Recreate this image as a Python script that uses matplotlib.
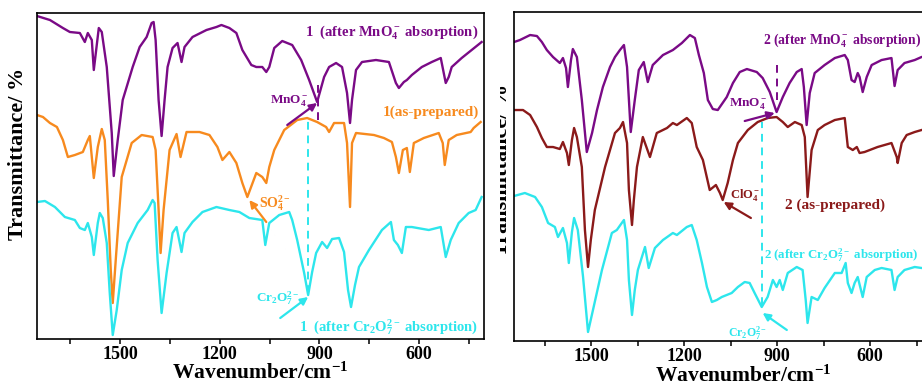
import matplotlib
matplotlib.use("Agg")
import matplotlib.pyplot as plt
from matplotlib.patches import Rectangle
from matplotlib.ticker import MultipleLocator

plt.rcParams['font.family'] = ['Liberation Serif', 'DejaVu Serif']
plt.rcParams['font.weight'] = 'bold'
plt.rcParams['mathtext.fontset'] = 'custom'
plt.rcParams['mathtext.rm'] = 'Liberation Serif:bold'
plt.rcParams['mathtext.bf'] = 'Liberation Serif:bold'
plt.rcParams['mathtext.it'] = 'Liberation Serif:bold:italic'
plt.rcParams['mathtext.default'] = 'rm'

PURPLE = '#7A0A86'
ORANGE = '#F78A1E'
CYAN = '#2DE6EC'
DARKRED = '#8B1A1A'

# ---- compound 1 (left panel), wavenumber in cm-1, transmittance in a.u. ----
wn_1mn = [1750, 1711, 1672, 1651, 1621, 1606, 1597, 1585, 1579, 1564, 1555, 1540, 1525, 1519,
          1507, 1492, 1462, 1441, 1420, 1405, 1399, 1393, 1384, 1375, 1366, 1357, 1342, 1327,
          1315, 1306, 1282, 1240, 1210, 1195, 1171, 1150, 1132, 1105, 1090, 1072, 1060, 1051,
          1036, 1012, 982, 955, 931, 907, 886, 871, 850, 832, 817, 808, 802, 790, 772, 730,
          691, 670, 661, 646, 637, 622, 592, 562, 535, 520, 511, 502, 472, 442, 412]
t_1mn = [324, 320, 312, 308, 307, 298, 307, 300, 270, 312, 308, 273, 207, 164,
         200, 240, 273, 293, 303, 317, 318, 300, 240, 204, 240, 273, 292, 297,
         278, 293, 303, 310, 313, 315, 312, 307, 290, 275, 273, 273, 268, 273,
         292, 299, 295, 280, 260, 238, 263, 273, 277, 273, 247, 217, 240, 270, 278, 280,
         278, 257, 252, 258, 260, 265, 273, 278, 282, 257, 263, 273, 282, 290, 298]

wn_1as = [1750, 1732, 1711, 1690, 1672, 1657, 1636, 1612, 1597, 1591, 1579, 1567, 1555, 1546,
          1537, 1528, 1522, 1513, 1495, 1465, 1435, 1402, 1393, 1384, 1378, 1369, 1351, 1330,
          1318, 1300, 1261, 1231, 1207, 1192, 1171, 1150, 1132, 1117, 1090, 1072, 1060, 1051,
          1036, 1006, 967, 937, 907, 880, 871, 856, 826, 817, 808, 802, 790, 736, 706, 682,
          670, 661, 649, 637, 628, 616, 586, 541, 529, 523, 511, 487, 445, 436, 415]
t_1as = [225, 223, 217, 213, 200, 183, 185, 188, 200, 204, 162, 193, 211, 200,
         140, 70, 37, 80, 163, 197, 205, 203, 190, 130, 87, 130, 190, 206,
         183, 208, 208, 205, 193, 180, 188, 177, 157, 143, 167, 163, 157, 173,
         190, 210, 220, 222, 218, 213, 208, 217, 217, 197, 133, 197, 207, 205, 202, 198,
         183, 167, 190, 192, 168, 197, 202, 207, 197, 175, 200, 205, 208, 212, 218]

wn_1cr = [1750, 1726, 1696, 1666, 1636, 1621, 1606, 1597, 1585, 1579, 1567, 1561, 1552, 1540,
          1531, 1522, 1510, 1495, 1477, 1447, 1417, 1402, 1396, 1387, 1375, 1360, 1342, 1330,
          1315, 1306, 1282, 1252, 1210, 1171, 1141, 1111, 1072, 1063, 1051, 1021, 991, 982,
          967, 946, 934, 922, 910, 892, 877, 862, 841, 826, 814, 805, 793, 781, 751, 712,
          685, 676, 664, 652, 640, 622, 571, 535, 520, 505, 481, 451, 430, 412]
t_1cr = [138, 139, 133, 123, 120, 112, 110, 117, 103, 85, 117, 127, 122, 97,
         47, 5, 30, 70, 97, 117, 130, 140, 137, 80, 27, 67, 107, 113,
         88, 107, 118, 128, 133, 130, 128, 122, 120, 95, 117, 125, 128, 120,
         100, 67, 45, 68, 87, 98, 92, 101, 102, 88, 50, 33, 55, 73, 90, 110,
         118, 100, 95, 87, 113, 113, 110, 113, 83, 100, 117, 127, 130, 143]

# ---- compound 2 (right panel) ----
wn_2mn = [1750, 1731, 1698, 1676, 1660, 1644, 1624, 1602, 1592, 1582, 1576, 1566, 1560, 1547,
          1531, 1515, 1498, 1482, 1463, 1440, 1424, 1408, 1395, 1385, 1373, 1360, 1347, 1331,
          1318, 1302, 1269, 1237, 1208, 1182, 1166, 1153, 1137, 1124, 1108, 1092, 1063, 1043,
          1021, 998, 966, 947, 924, 902, 882, 860, 837, 821, 814, 805, 795, 779, 747, 714,
          682, 672, 660, 650, 640, 634, 624, 611, 595, 563, 531, 521, 511, 489, 456, 434, 401]
t_2mn = [302, 304, 309, 308, 302, 294, 287, 281, 286, 276, 257, 284, 295, 287,
         244, 192, 211, 234, 257, 277, 287, 294, 299, 277, 212, 244, 274, 282,
         262, 279, 289, 294, 301, 309, 306, 289, 271, 244, 235, 234, 247, 261,
         272, 275, 272, 266, 252, 232, 247, 261, 272, 275, 257, 219, 251, 271, 279, 286,
         289, 284, 264, 262, 271, 267, 252, 267, 279, 284, 286, 258, 274, 281, 284, 287, 289]

wn_2as = [1750, 1721, 1698, 1676, 1660, 1644, 1624, 1602, 1592, 1579, 1573, 1563, 1556, 1547,
          1531, 1521, 1511, 1502, 1489, 1456, 1424, 1408, 1398, 1385, 1379, 1369, 1363, 1353,
          1334, 1311, 1289, 1256, 1237, 1224, 1192, 1176, 1160, 1140, 1118, 1098, 1085, 1076,
          1060, 1043, 1027, 995, 963, 931, 902, 882, 866, 843, 821, 811, 802, 789, 769, 747,
          714, 682, 672, 656, 643, 634, 618, 576, 531, 514, 511, 498, 482, 456, 434, 401]
t_2as = [234, 234, 229, 217, 206, 197, 197, 195, 202, 191, 179, 204, 216, 207,
         177, 114, 77, 104, 134, 177, 211, 216, 222, 201, 154, 119, 144, 177,
         207, 187, 211, 216, 221, 219, 226, 221, 197, 184, 154, 159, 151, 144,
         161, 184, 201, 214, 222, 226, 227, 222, 217, 222, 219, 207, 147, 194, 214, 219,
         224, 226, 197, 194, 197, 191, 192, 197, 201, 187, 181, 201, 209, 212, 214, 216]

wn_2cr = [1750, 1715, 1682, 1660, 1640, 1618, 1608, 1592, 1579, 1573, 1563, 1556, 1544, 1527,
          1511, 1495, 1466, 1434, 1418, 1402, 1395, 1385, 1379, 1369, 1360, 1350, 1327, 1315,
          1295, 1269, 1237, 1224, 1192, 1176, 1160, 1143, 1127, 1111, 1095, 1079, 1047, 1027,
          1005, 989, 973, 950, 931, 914, 902, 892, 882, 866, 837, 818, 808, 802, 789, 769,
          747, 714, 692, 679, 672, 660, 650, 640, 624, 611, 585, 563, 531, 521, 511, 489,
          456, 434, 401]
t_2cr = [148, 151, 147, 137, 121, 117, 107, 116, 101, 81, 112, 126, 114, 67,
         12, 34, 74, 111, 114, 121, 124, 104, 64, 29, 54, 74, 97, 76,
         96, 104, 111, 109, 117, 119, 104, 81, 57, 42, 44, 47, 51, 57,
         62, 61, 51, 37, 47, 64, 57, 64, 54, 71, 77, 74, 44, 21, 47, 44,
         56, 71, 71, 81, 61, 51, 61, 67, 47, 67, 74, 76, 74, 54, 67, 74,
         77, 76, 76]

fig = plt.figure(figsize=(9.22, 3.87), dpi=100)
ax1 = fig.add_axes([0.0401, 0.124, 0.4848, 0.8424])
ax2 = fig.add_axes([0.5575, 0.1189, 0.4534, 0.850])

for ax in (ax1, ax2):
    ax.set_xlim(1750, 405)
    ax.xaxis.set_major_locator(MultipleLocator(300))
    ax.xaxis.set_minor_locator(MultipleLocator(150))
    ax.tick_params(axis='x', which='both', direction='out', length=3.5, width=1.1,
                   labelsize=13, pad=1.5)
    ax.set_yticks([])
    for s in ax.spines.values():
        s.set_linewidth(1.2)
    ax.set_xlabel('Wavenumber/cm$^{-1}$', fontsize=15.5, fontweight='bold', labelpad=0)

ax1.set_ylim(1, 327)
ax2.set_ylim(3, 332)
ax2.set_xlim(1750, 400)
ax2.xaxis.set_label_coords(0.548, -0.074)

lw = 1.7
ax1.plot(wn_1mn, t_1mn, color=PURPLE, lw=lw)
ax1.plot(wn_1as, t_1as, color=ORANGE, lw=lw)
ax1.plot(wn_1cr, t_1cr, color=CYAN, lw=lw)
ax2.plot(wn_2mn, t_2mn, color=PURPLE, lw=lw)
ax2.plot(wn_2as, t_2as, color=DARKRED, lw=lw)
ax2.plot(wn_2cr, t_2cr, color=CYAN, lw=lw)

dash = (0, (4, 3))
ax1.plot([904, 904], [220, 257], color=PURPLE, lw=1.4, ls=dash)
ax1.plot([934, 934], [47, 222], color=CYAN, lw=1.4, ls=dash)
ax2.plot([902, 902], [244, 279], color=PURPLE, lw=1.4, ls=dash)
ax2.plot([950, 950], [39, 222], color=CYAN, lw=1.4, ls=dash)

arrow = dict(arrowstyle='-|>', lw=1.6, mutation_scale=11, shrinkA=0, shrinkB=0)

# left panel labels
ax1.text(421, 308, '1  (after MnO$_4^-$ absorption)', color=PURPLE, fontsize=10.5,
         ha='right', va='center')
ax1.text(421, 228, '1(as-prepared)', color=ORANGE, fontsize=11, ha='right', va='center')
ax1.text(421, 13, '1  (after Cr$_2$O$_7^{2-}$ absorption)', color=CYAN, fontsize=10.5,
         ha='right', va='center')
ax1.text(991, 240, 'MnO$_4^-$', color=PURPLE, fontsize=9.5, ha='center', va='center')
ax1.annotate('', xy=(907, 237), xytext=(997, 215), arrowprops=dict(arrow, color=PURPLE))
ax1.text(1081, 137, 'SO$_4^{2-}$', color=ORANGE, fontsize=10, ha='left', va='center')
ax1.annotate('', xy=(1111, 140), xytext=(1060, 118), arrowprops=dict(arrow, color=ORANGE))
ax1.text(1090, 42, 'Cr$_2$O$_7^{2-}$', color=CYAN, fontsize=9.5, ha='left', va='center')
ax1.annotate('', xy=(934, 43), xytext=(1018, 22), arrowprops=dict(arrow, color=CYAN))

# right panel labels (the panel runs past the right edge of the picture)
ax2.text(947, 304, '2 (after MnO$_4^-$ absorption)', color=PURPLE, fontsize=9.8,
         ha='left', va='center')
ax2.text(995, 241, 'MnO$_4^-$', color=PURPLE, fontsize=9.5, ha='center', va='center')
ax2.annotate('', xy=(908, 231), xytext=(1005, 223), arrowprops=dict(arrow, color=PURPLE))
ax2.text(1053, 149, 'ClO$_4^-$', color=DARKRED, fontsize=9, ha='left', va='center')
ax2.annotate('', xy=(1073, 142), xytext=(985, 126), arrowprops=dict(arrow, color=DARKRED))
ax2.text(876, 139, '2 (as-prepared)', color=DARKRED, fontsize=11, ha='left', va='center')
ax2.text(944, 89, '2 (after Cr$_2$O$_7^{2-}$ absorption)', color=CYAN, fontsize=9.3,
         ha='left', va='center')
ax2.text(995, 11, 'Cr$_2$O$_7^{2-}$', color=CYAN, fontsize=8.5, ha='center', va='center')
ax2.annotate('', xy=(947, 31), xytext=(869, 14), arrowprops=dict(arrow, color=CYAN))

# y labels
fig.text(0.0195, 0.602, 'Transmittance/ %', rotation=90, fontsize=16,
         ha='center', va='center')
ylab2 = fig.text(0.5445, 0.56, 'Transmittance/ %', rotation=90, fontsize=16,
                 ha='center', va='center')
ylab2.set_clip_path(Rectangle((500 / 922, 0), 1, 1, transform=fig.transFigure))

fig.savefig('out.png', dpi=100)
